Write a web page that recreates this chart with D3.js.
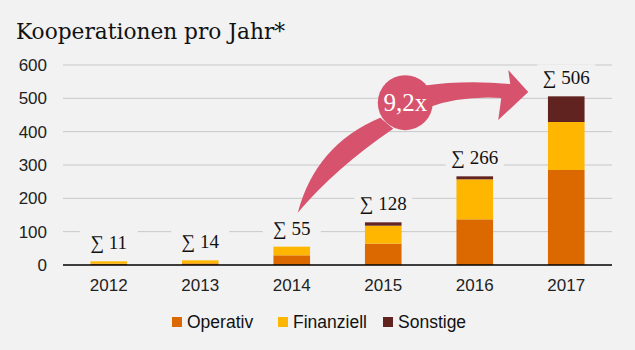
<!DOCTYPE html>
<html>
<head>
<meta charset="utf-8">
<script src="https://cdn.jsdelivr.net/npm/d3@7"></script>
<style>
  html, body { margin: 0; padding: 0; background: #f2f2f2; }
  svg { display: block; }
</style>
</head>
<body>
<svg id="chart"></svg>
<script>
  const years = ["2012", "2013", "2014", "2015", "2016", "2017"];
  const operativ = [4, 5, 29, 64, 137, 285];
  const finanziell = [7, 9, 26, 54, 120, 144];
  const sonstige = [0, 0, 0, 10, 9, 77];
  const totals = [11, 14, 55, 128, 266, 506];
  const seriesNames = ["Operativ", "Finanziell", "Sonstige"];
  const seriesColors = ["#dc6900", "#ffb600", "#602320"];
  const yTicks = [0, 100, 200, 300, 400, 500, 600];
  const growthLabel = "9,2x";

  const W = 635, H = 350;
  const bg = "#f2f2f2";
  const svg = d3.select("#chart").attr("width", W).attr("height", H);
  svg.append("rect").attr("width", W).attr("height", H).attr("fill", bg);

  const x = d3.scaleBand().domain(years).range([63, 612]).paddingInner(0.6).paddingOuter(0.3);
  const y = d3.scaleLinear().domain([0, 600]).range([265, 65]);
  const xc = yr => x(yr) + x.bandwidth() / 2;

  // title
  svg.append("text")
    .attr("x", 16).attr("y", 39)
    .style("font-family", "'DejaVu Serif', serif")
    .style("font-size", "21.7px")
    .style("fill", "#111")
    .text("Kooperationen pro Jahr*");

  // grid
  svg.append("g").selectAll("line")
    .data(yTicks.filter(d => d > 0))
    .join("line")
    .attr("x1", 63).attr("x2", 612)
    .attr("y1", d => y(d)).attr("y2", d => y(d))
    .attr("stroke", "#c8c8c8").attr("stroke-width", 1);

  // y axis labels
  const yAxis = svg.append("g")
    .attr("transform", "translate(63,0)")
    .call(d3.axisLeft(y).tickValues(yTicks).tickSize(0).tickPadding(16));
  yAxis.select(".domain").remove();
  yAxis.selectAll("text")
    .style("font-family", "'Liberation Sans', Arial, sans-serif")
    .style("font-size", "17px")
    .style("fill", "#222");

  // stacked bars
  const table = years.map((yr, i) => ({ year: yr, Operativ: operativ[i], Finanziell: finanziell[i], Sonstige: sonstige[i] }));
  const stacked = d3.stack().keys(seriesNames)(table);
  svg.append("g").selectAll("g")
    .data(stacked)
    .join("g")
    .attr("fill", (d, i) => seriesColors[i])
    .selectAll("rect")
    .data(d => d)
    .join("rect")
    .attr("x", d => x(d.data.year))
    .attr("width", x.bandwidth())
    .attr("y", d => y(d[1]))
    .attr("height", d => y(d[0]) - y(d[1]));

  // baseline
  svg.append("line")
    .attr("x1", 63).attr("x2", 612)
    .attr("y1", y(0)).attr("y2", y(0))
    .attr("stroke", "#000").attr("stroke-width", 1.3);

  // x axis labels
  const xAxis = svg.append("g")
    .attr("transform", `translate(0,${y(0)})`)
    .call(d3.axisBottom(x).tickSize(0).tickPadding(14));
  xAxis.select(".domain").remove();
  xAxis.selectAll("text")
    .style("font-family", "'Liberation Sans', Arial, sans-serif")
    .style("font-size", "17px")
    .style("fill", "#222");

  // sum labels with background to break gridlines
  const sums = svg.append("g").selectAll("g")
    .data(years.map((yr, i) => ({ year: yr, total: totals[i] })))
    .join("g")
    .attr("transform", d => `translate(${xc(d.year)},${y(d.total) - 12})`);
  sums.append("rect")
    .attr("x", -29).attr("y", -20).attr("width", 58).attr("height", 24)
    .attr("fill", bg);
  sums.append("text")
    .attr("text-anchor", "middle")
    .style("font-family", "'Liberation Serif', serif")
    .style("font-size", "19px")
    .style("fill", "#111")
    .text(d => "\u2211 " + d.total);

  // growth arrow (anchored to scales)
  const sx = xc("2014") + 6, sy = y(157);
  const cx = xc("2015") + 22, cy = y(487);
  const tx = xc("2017") - 38, ty = y(519);
  const arrowColor = "#d7536d";
  const a = svg.append("g").attr("fill", arrowColor);
  a.append("path").attr("d",
    `M${sx},${sy} Q${sx + 18},${sy - 68} ${cx - 25},${cy + 15} L${cx - 12},${cy + 26} Q${sx + 38},${sy - 45} ${sx},${sy} Z`);
  a.append("path").attr("d",
    `M${cx + 18},${cy - 17} Q${cx + 60},${cy - 23} ${tx - 18},${ty - 8}` +
    ` L${tx - 20},${ty - 22} L${tx},${ty} L${tx - 30},${ty + 28} L${tx - 27},${ty + 6}` +
    ` Q${cx + 55},${cy - 7} ${cx + 22},${cy + 5} Z`);
  a.append("circle").attr("cx", cx).attr("cy", cy).attr("r", 27.5);
  svg.append("text")
    .attr("x", cx).attr("y", cy + 8)
    .attr("text-anchor", "middle")
    .style("font-family", "'Liberation Serif', serif")
    .style("font-size", "25px")
    .style("fill", "#fff")
    .text(growthLabel);

  // legend
  const legendX = [172, 278, 383];
  const lg = svg.append("g").selectAll("g")
    .data(seriesNames)
    .join("g")
    .attr("transform", (d, i) => `translate(${legendX[i]},317)`);
  lg.append("rect").attr("width", 10).attr("height", 10)
    .attr("fill", (d, i) => seriesColors[i]);
  lg.append("text")
    .attr("x", 15).attr("y", 11)
    .style("font-family", "'Liberation Sans', Arial, sans-serif")
    .style("font-size", "17.5px")
    .style("fill", "#111")
    .text(d => d);
</script>
</body>
</html>
